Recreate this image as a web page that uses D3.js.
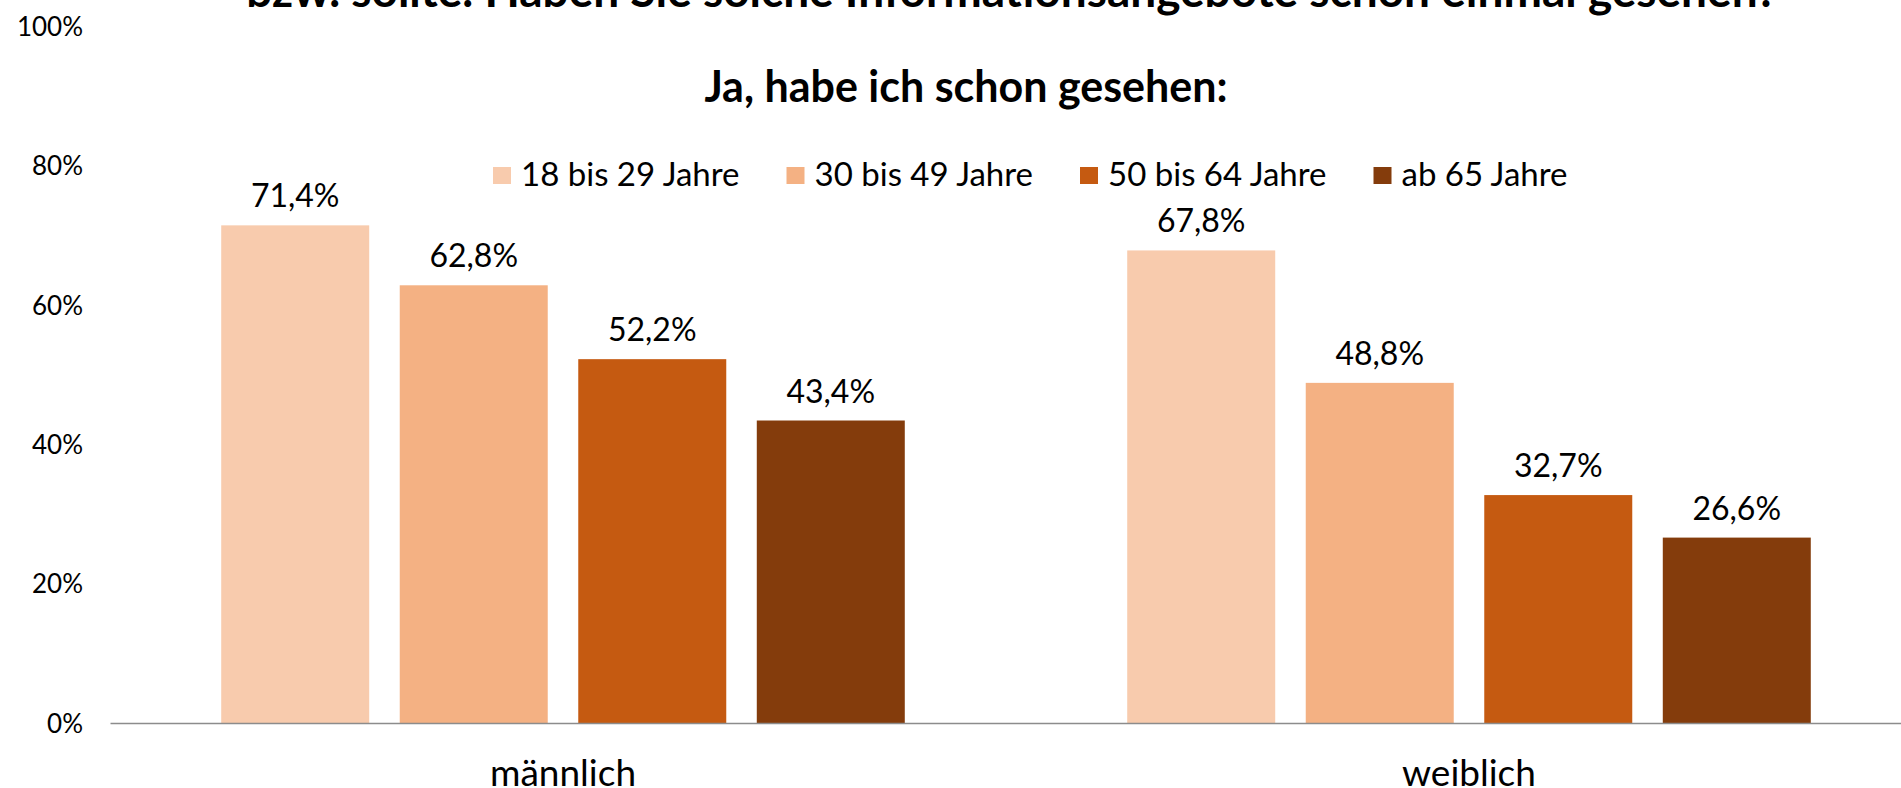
<!DOCTYPE html>
<html lang="de">
<head>
<meta charset="utf-8">
<title>Ja, habe ich schon gesehen</title>
<script src="https://cdn.jsdelivr.net/npm/d3@7"></script>
<style>
	html, body { margin: 0; padding: 0; background: #fff; overflow: hidden; }
	svg { display: block; font-family: Lato, 'Noto Sans', sans-serif; }
</style>
</head>
<body>
<div id="chart"></div>
<script>
	// Daten
	const categories = ['männlich', 'weiblich'];
	const ageGroups = ['18 bis 29 Jahre', '30 bis 49 Jahre', '50 bis 64 Jahre', 'ab 65 Jahre'];
	const valuesMaennlich = [71.4, 62.8, 52.2, 43.4];
	const valuesWeiblich = [67.8, 48.8, 32.7, 26.6];
	const yTicks = [0, 20, 40, 60, 80, 100];
	const titleLine1 = 'bzw. sollte. Haben Sie solche Informationsangebote schon einmal gesehen?';
	const titleLine2 = 'Ja, habe ich schon gesehen:';

	const colors = ['#F8CBAD', '#F4B183', '#C55A11', '#843C0C'];

	const width = 1901;
	const height = 788;

	const rows = [valuesMaennlich, valuesWeiblich].map(function(vals, i) {
		return {
			category: categories[i],
			bars: vals.map(function(v, j) { return { group: ageGroups[j], value: v }; })
		};
	});

	const svg = d3.select('#chart')
		.append('svg')
		.attr('width', width)
		.attr('height', height);

	// Skalen (the plot runs past the right edge, like in the original)
	const x0 = d3.scaleBand()
		.domain(categories)
		.range([110, 1922]);

	const x1 = d3.scaleBand()
		.domain(ageGroups)
		.range([0, x0.bandwidth()])
		.paddingInner(0.171)
		.paddingOuter(0.623);

	const y = d3.scaleLinear()
		.domain([0, 100])
		.range([723, 26]);

	const color = d3.scaleOrdinal().domain(ageGroups).range(colors);

	// y-Achse (nur Beschriftung)
	const yAxis = svg.append('g')
		.attr('transform', 'translate(83,0)')
		.call(d3.axisLeft(y).tickValues(yTicks).tickFormat(d => d + '%').tickSize(0).tickPadding(0));
	yAxis.select('.domain').remove();
	yAxis.selectAll('text')
		.attr('dy', '0.36em')
		.style('font-family', 'Lato')
		.style('font-size', '26px')
		.style('fill', '#000');

	// Balken
	const groups = svg.append('g')
		.selectAll('g')
		.data(rows)
		.join('g')
		.attr('transform', d => `translate(${x0(d.category)},0)`);

	groups.selectAll('rect')
		.data(d => d.bars)
		.join('rect')
		.attr('x', d => x1(d.group))
		.attr('y', d => y(d.value))
		.attr('width', x1.bandwidth())
		.attr('height', d => y(0) - y(d.value))
		.style('fill', d => color(d.group));

	// Werte über den Balken
	groups.selectAll('text')
		.data(d => d.bars)
		.join('text')
		.attr('x', d => x1(d.group) + x1.bandwidth() / 2)
		.attr('y', d => y(d.value) - 18)
		.attr('text-anchor', 'middle')
		.style('font-size', '32px')
		.style('fill', '#000')
		.text(d => d.value.toFixed(1).replace('.', ',') + '%');

	// x-Achse (labels sit at the bottom edge, as in the original)
	const xAxis = svg.append('g')
		.attr('transform', `translate(0,${y(0)})`)
		.call(d3.axisBottom(x0).tickSize(0).tickPadding(37));
	xAxis.select('.domain')
		.style('stroke', '#8c8c8c')
		.style('stroke-width', 1.5);
	xAxis.selectAll('text')
		.style('font-family', 'Lato')
		.style('font-size', '37px')
		.style('fill', '#000');

	// Titel (first line is cut at the top edge, as in the original)
	svg.append('text')
		.attr('x', 1012)
		.attr('y', 7)
		.attr('text-anchor', 'middle')
		.style('font-size', '46px')
		.style('font-weight', 'bold')
		.text(titleLine1);

	svg.append('text')
		.attr('x', 966)
		.attr('y', 102)
		.attr('text-anchor', 'middle')
		.style('font-size', '43px')
		.style('font-weight', 'bold')
		.text(titleLine2);

	// Legende
	const legend = svg.append('g')
		.selectAll('g')
		.data(ageGroups)
		.join('g')
		.attr('transform', (d, i) => `translate(${493 + i * 293.5},167)`);

	legend.append('rect')
		.attr('width', 18)
		.attr('height', 17)
		.style('fill', d => color(d));

	legend.append('text')
		.attr('x', 28)
		.attr('y', 19)
		.style('font-size', '33px')
		.style('fill', '#000')
		.text(d => d);
</script>
</body>
</html>
